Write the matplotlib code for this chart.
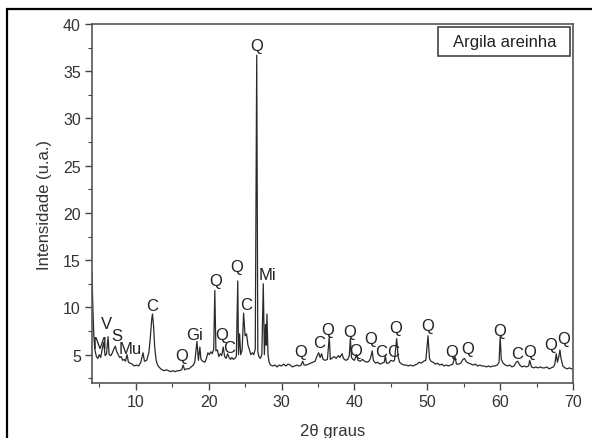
import matplotlib
matplotlib.use("Agg")
import matplotlib.pyplot as plt
from matplotlib.patches import Rectangle
from matplotlib.ticker import MultipleLocator

plt.rcParams['font.family'] = ['Liberation Sans', 'DejaVu Sans']

# difratograma (2theta, intensidade)
two_theta = [
    4.0, 4.1, 4.25, 4.4, 4.6, 4.8, 5.0, 5.2, 5.4, 5.6, 5.8, 6.0, 6.2, 6.35, 6.6, 6.8,
    7.0, 7.2, 7.4, 7.6, 7.8, 8.0, 8.2, 8.4, 8.6, 8.8, 9.0, 9.2, 9.5, 9.8, 10.1, 10.4,
    10.7, 11.0, 11.2, 11.5, 11.8, 12.0, 12.2, 12.3, 12.45, 12.6, 12.8, 13.0, 13.3, 13.6,
    13.9, 14.2, 14.5, 14.8, 15.1, 15.4, 15.7, 16.0, 16.3, 16.5, 16.7, 17.0, 17.3, 17.6,
    17.9, 18.1, 18.4, 18.6, 18.8, 18.95, 19.2, 19.5, 19.7, 19.9, 20.1, 20.3, 20.5, 20.7,
    20.85, 21.0, 21.2, 21.4, 21.6, 21.8, 22.0, 22.2, 22.4, 22.6, 22.8, 23.0, 23.2, 23.4,
    23.6, 23.8, 24.0, 24.1, 24.25, 24.4, 24.6, 24.8, 25.0, 25.2, 25.4, 25.6, 25.8, 26.0,
    26.2, 26.4, 26.6, 26.75, 26.9, 27.1, 27.3, 27.5, 27.65, 27.8, 27.9, 28.0, 28.15, 28.3,
    28.5, 28.8, 29.1, 29.4, 29.7, 30.0, 30.3, 30.6, 30.9, 31.2, 31.5, 31.8, 32.1, 32.4,
    32.7, 32.9, 33.1, 33.4, 33.7, 34.0, 34.3, 34.6, 34.9, 35.1, 35.3, 35.5, 35.7, 36.0,
    36.3, 36.55, 36.7, 36.9, 37.2, 37.5, 37.8, 38.0, 38.3, 38.5, 38.8, 39.1, 39.3, 39.45,
    39.6, 39.8, 40.0, 40.3, 40.5, 40.8, 41.1, 41.4, 41.7, 42.0, 42.2, 42.45, 42.6, 42.9,
    43.2, 43.5, 43.8, 44.1, 44.25, 44.4, 44.7, 45.0, 45.3, 45.5, 45.8, 46.0, 46.2, 46.5,
    46.8, 47.1, 47.4, 47.7, 48.0, 48.3, 48.6, 48.9, 49.2, 49.5, 49.8, 50.1, 50.3, 50.5,
    50.8, 51.1, 51.4, 51.7, 52.0, 52.3, 52.6, 52.9, 53.2, 53.5, 53.8, 54.0, 54.3, 54.6,
    54.9, 55.1, 55.4, 55.7, 56.0, 56.3, 56.6, 56.9, 57.2, 57.5, 57.8, 58.1, 58.4, 58.7,
    59.0, 59.3, 59.6, 59.85, 60.0, 60.15, 60.4, 60.7, 61.0, 61.3, 61.6, 61.9, 62.2, 62.4,
    62.7, 63.0, 63.3, 63.6, 63.9, 64.05, 64.3, 64.6, 64.9, 65.2, 65.5, 65.8, 66.1, 66.4,
    66.7, 67.0, 67.3, 67.5, 67.7, 67.85, 68.05, 68.2, 68.35, 68.6, 68.9, 69.2, 69.5, 69.8,
    70.0]
intensidade = [
    13.7, 10.5, 7.0, 5.5, 4.8, 4.6, 5.0, 4.7, 5.6, 6.3, 4.9, 5.1, 6.9, 5.0, 4.9, 5.2,
    5.6, 5.9, 5.3, 5.0, 4.7, 4.8, 4.4, 4.5, 4.3, 5.0, 4.2, 4.1, 4.0, 3.8, 3.9, 3.8,
    4.2, 5.2, 4.3, 4.4, 5.2, 6.8, 8.8, 9.3, 8.0, 5.8, 4.4, 3.9, 3.6, 3.4,
    3.3, 3.4, 3.3, 3.2, 3.3, 3.2, 3.3, 3.3, 3.4, 3.9, 3.4, 3.5, 3.5, 3.7,
    3.9, 4.2, 6.4, 4.4, 5.8, 4.5, 4.3, 4.2, 4.6, 5.2, 5.0, 5.3, 5.1, 5.6,
    11.8, 5.4, 5.5, 4.8, 5.1, 4.9, 5.8, 4.8, 4.6, 5.1, 4.7, 4.5, 4.7, 4.5,
    4.6, 4.8, 12.8, 5.0, 7.2, 5.0, 5.5, 9.4, 7.0, 7.2, 6.0, 5.5, 5.0, 5.2,
    5.0, 5.6, 36.7, 5.3, 4.8, 4.6, 5.0, 12.5, 5.0, 8.2, 6.0, 9.3, 5.0, 4.2,
    3.9, 3.8, 3.9, 3.7, 3.9, 3.8, 4.0, 3.8, 4.0, 3.9, 3.7, 3.8, 3.9, 3.8,
    3.9, 4.3, 3.9, 3.9, 4.0, 4.1, 4.2, 4.3, 4.9, 5.2, 4.7, 5.1, 4.5, 4.4,
    4.5, 6.9, 4.5, 4.6, 4.8, 4.6, 4.9, 4.7, 5.1, 4.6, 4.4, 4.5, 4.9, 6.7,
    4.7, 4.5, 4.4, 5.0, 4.4, 4.3, 4.5, 4.3, 4.2, 4.3, 4.6, 5.4, 4.4, 4.1,
    4.2, 4.0, 4.1, 4.2, 4.9, 4.1, 4.1, 4.4, 4.3, 4.4, 6.7, 4.8, 4.2, 4.0,
    3.9, 3.9, 3.8, 3.9, 3.8, 3.9, 4.0, 4.2, 4.1, 4.3, 4.4, 7.0, 4.6, 4.3,
    4.2, 4.0, 4.1, 3.9, 4.0, 3.8, 3.9, 3.8, 3.9, 4.0, 4.8, 4.0, 4.0, 4.1,
    4.5, 4.6, 4.2, 4.1, 4.0, 3.9, 4.0, 3.8, 3.9, 3.8, 3.8, 3.7, 3.8, 3.7,
    3.8, 3.8, 3.9, 4.2, 6.9, 4.5, 4.1, 3.9, 3.8, 3.9, 3.7, 3.8, 4.2, 4.3,
    3.9, 3.7, 3.8, 3.7, 3.8, 4.4, 3.7, 3.6, 3.7, 3.6, 3.7, 3.6, 3.6, 3.7,
    3.5, 3.6, 3.7, 4.0, 5.1, 4.2, 4.8, 5.5, 4.6, 3.8, 3.6, 3.5, 3.6, 3.5,
    3.5]

# identificacao das fases
fases = ['M', 'V', 'S', 'Mu', 'C', 'Q', 'Gi', 'Q', 'Q', 'C', 'Q', 'C', 'Q', 'Mi',
         'Q', 'C', 'Q', 'Q', 'Q', 'Q', 'C', 'C', 'Q', 'Q', 'Q', 'Q', 'Q', 'C', 'Q', 'Q', 'Q']
fases_x = [5.05, 6.0, 7.4, 9.3, 12.3, 16.3, 18.0, 21.0, 21.8, 22.8, 23.9, 25.1, 26.6, 28.1,
           32.7, 35.1, 36.4, 39.4, 40.2, 42.2, 43.65, 45.35, 45.7, 50.1, 53.4, 55.5, 59.9,
           62.3, 64.1, 66.9, 68.7]
fases_y = [6.2, 8.3, 7.0, 5.7, 10.2, 4.9, 7.1, 12.8, 7.1, 5.8, 14.3, 10.3, 37.7, 13.5,
           5.3, 6.3, 7.7, 7.5, 5.4, 6.7, 5.3, 5.3, 7.9, 8.1, 5.3, 5.7, 7.6,
           5.1, 5.3, 6.1, 6.7]

fig = plt.figure(figsize=(5.92, 4.39), dpi=100)
ax = fig.add_axes([0.1554, 0.1253, 0.8126, 0.8177])

# moldura externa
fig.patches.append(Rectangle((0.0118, -0.2), 1.2, 0.977 + 0.2, transform=fig.transFigure,
                             fill=False, edgecolor='black', linewidth=1.6))

ax.plot(two_theta, intensidade, color='#2a2a2a', linewidth=0.9)

for t, xx, yy in zip(fases, fases_x, fases_y):
    ax.text(xx, yy, t, ha='center', va='center', fontsize=12, color='#222222')

ax.set_xlim(4, 70)
ax.set_ylim(2, 40)
ax.xaxis.set_major_locator(MultipleLocator(10))
ax.xaxis.set_minor_locator(MultipleLocator(5))
ax.yaxis.set_major_locator(MultipleLocator(5))
ax.yaxis.set_minor_locator(MultipleLocator(2.5))
ax.tick_params(which='both', direction='out', top=False, right=False,
               color='#444444', labelsize=11.5, labelcolor='#333333')
ax.tick_params(which='major', length=5, width=1.0, pad=3)
ax.tick_params(which='minor', length=3, width=0.8)
for s in ax.spines.values():
    s.set_color('#555555')
    s.set_linewidth(1.2)

ax.set_xlabel('2\u03b8 graus', fontsize=12, color='#333333', labelpad=10)
ax.set_ylabel('Intensidade (u.a.)', fontsize=12, color='#333333', labelpad=8)

# caixa da amostra
ax.add_patch(Rectangle((0.719, 0.911), 0.275, 0.081, transform=ax.transAxes,
                       fill=False, edgecolor='#444444', linewidth=1.2))
ax.text(0.857, 0.951, 'Argila areinha', transform=ax.transAxes, ha='center', va='center',
        fontsize=12, color='#222222')

fig.savefig('out.png', dpi=100)
